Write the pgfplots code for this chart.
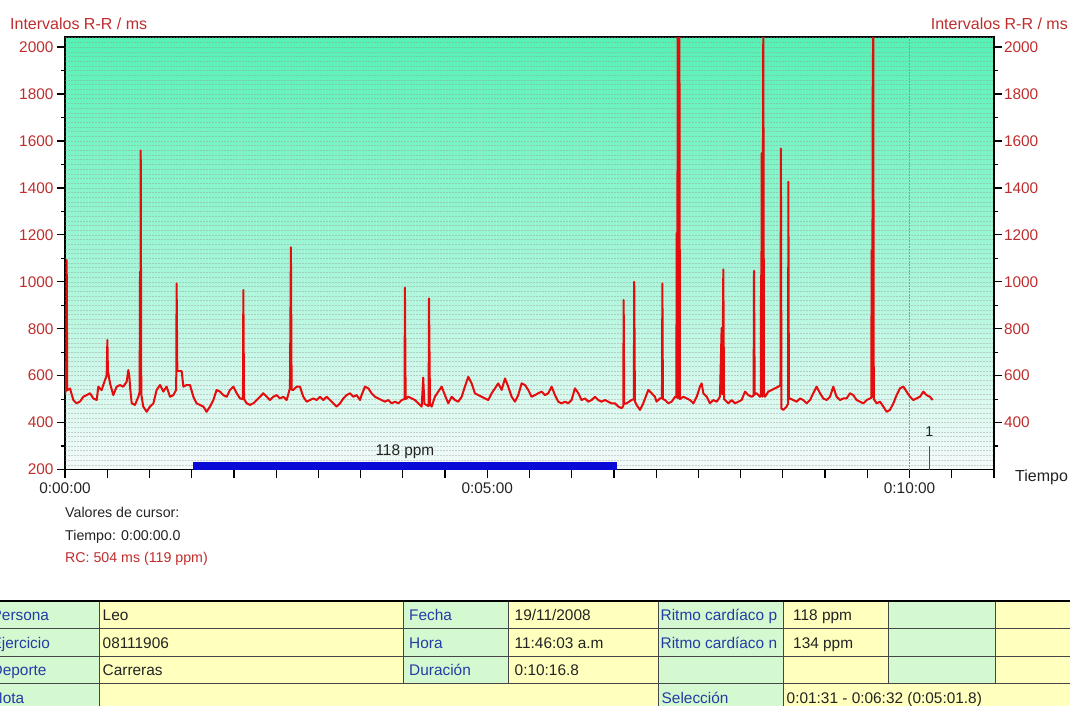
\documentclass[border=0pt]{standalone}
\usepackage{fontspec}
\setmainfont{Liberation Sans}
\usepackage{pgfplots}
\usepackage{pgfplotstable}
\pgfplotsset{compat=1.18}
\definecolor{rrred}{RGB}{190,45,45}
\definecolor{linered}{RGB}{228,12,12}
\definecolor{bgtop}{RGB}{85,242,180}
\definecolor{bgmid}{RGB}{160,246,214}
\definecolor{bgbot}{RGB}{244,250,250}
\definecolor{gridc}{RGB}{150,150,150}
\definecolor{selblue}{RGB}{10,10,215}
\definecolor{cellg}{RGB}{212,248,208}
\definecolor{celly}{RGB}{255,255,190}
\definecolor{lblue}{RGB}{35,60,165}
\definecolor{txt}{RGB}{35,35,35}
\definecolor{tline}{RGB}{70,70,70}
\newcommand{\fa}{\fontsize{15.4}{17}\selectfont}
\newcommand{\ft}{\fontsize{16}{18}\selectfont}
\newcommand{\fb}{\fontsize{14.2}{16}\selectfont}

\pgfplotstableread{
t v
0 525
0.8 540
1.2 1092
1.6 538
3.6 545
5.9 496
8.3 482
10.7 490
13.0 510
15.4 517
17.8 525
20.1 503
22.5 496
23.7 553
26.0 538
27.2 560
28.4 581
29.6 600
30.1 752
30.5 620
32.0 567
34.3 517
36.7 553
39.1 560
41.4 553
43.8 574
45.0 624
45.7 600
46.2 553
47.4 482
49.7 475
52.1 510
53.0 530
53.3 1043
53.5 560
53.8 1560
54.2 520
55.6 468
58.0 446
60.4 468
62.8 482
65.1 539
67.5 560
69.9 532
72.2 553
74.6 510
77.0 517
79.0 540
79.3 993
79.8 620
82.9 619
84.1 553
86.4 560
88.8 560
91.2 510
93.5 482
95.9 475
98.3 468
100.6 446
103.0 468
105.4 496
107.7 539
110.1 532
112.5 517
114.9 510
117.2 539
119.6 553
122.0 525
124.3 503
126.4 500
126.7 965
127.2 500
129.1 482
131.4 475
133.8 482
136.2 496
138.5 510
140.9 525
143.3 510
145.6 496
148.0 510
150.4 517
152.7 503
155.1 510
157.5 496
159.8 546
160.5 1147
161.0 540
162.2 539
164.6 553
166.9 553
169.3 510
171.7 489
174.0 496
176.4 503
178.8 496
181.2 510
183.5 496
185.9 510
188.3 496
190.6 482
193.0 468
195.4 482
197.7 503
200.1 517
202.5 525
204.8 510
207.2 517
209.6 496
210.7 517
213.1 553
215.5 546
217.8 525
220.2 510
222.6 503
224.9 496
227.3 489
229.7 496
232.0 482
234.4 489
236.8 482
239.2 496
241.2 500
241.5 975
242.0 500
243.9 510
246.3 503
248.6 496
251.0 482
253.4 468
254.5 592
255.3 480
256.9 475
258.3 470
258.6 929
259.3 480
260.5 468
262.8 510
265.2 532
267.6 553
269.9 517
272.3 482
274.7 510
277.0 496
279.4 489
281.8 510
284.1 553
286.5 595
288.9 567
291.2 525
293.6 517
296.0 510
298.4 503
300.7 496
303.1 525
305.5 546
307.8 567
310.2 539
312.6 588
314.9 553
317.3 510
319.7 489
322.0 517
324.4 567
326.8 560
329.1 539
331.5 510
333.9 517
336.2 525
338.6 532
341.0 517
343.3 525
345.7 553
348.1 517
350.4 489
352.8 482
355.2 489
357.5 482
359.9 496
362.3 546
364.7 525
367.0 496
369.4 503
371.8 489
374.1 496
376.5 510
378.9 496
381.2 489
383.6 496
386.0 489
388.3 482
390.7 482
393.1 468
395.4 461
396.6 470
396.9 922
397.3 480
399.0 482
402.5 496
404.1 500
404.4 1000
404.9 490
406.1 475
408.5 454
410.8 482
414.4 539
416.8 525
419.1 510
420.3 489
422.7 503
424.1 505
424.4 993
424.8 500
426.3 496
428.6 482
431.0 489
433.4 510
434.3 510
434.6 1208
434.9 505
435.3 2100
435.7 505
436.1 1909
436.5 2100
436.9 500
439.3 510
441.6 503
444.0 496
446.4 482
448.8 510
451.1 553
452.3 567
453.5 525
455.9 510
458.2 482
460.6 496
463.0 489
465.3 510
466.5 803
466.9 520
467.7 1053
468.2 500
468.9 496
471.2 482
473.6 496
476.0 482
478.4 489
480.7 496
483.1 532
485.5 517
487.8 510
489.2 515
489.5 1047
490.0 520
491.4 525
493.7 510
494.3 515
494.5 1029
494.7 515
494.9 1548
495.4 510
496.1 2100
496.6 520
497.3 510
499.7 532
502.0 539
504.4 546
506.8 553
508.3 560
508.6 1568
509.0 460
510.3 454
512.7 468
513.7 480
513.9 1426
514.3 500
515.1 503
517.4 496
519.8 489
522.2 503
524.5 496
526.9 482
529.3 496
531.6 525
534.0 553
536.4 525
538.7 503
541.1 496
543.5 510
545.8 553
548.2 510
550.6 496
552.9 503
555.3 503
557.7 525
560.0 517
562.4 496
564.8 489
567.2 482
569.5 496
571.9 503
572.8 505
573.1 1135
573.5 510
573.8 1789
574.2 2100
574.6 500
576.6 482
579.0 489
581.4 468
583.7 446
586.1 454
588.5 482
590.8 517
593.2 546
595.6 553
597.9 532
600.3 510
602.7 496
605.0 503
607.4 510
609.8 532
612.1 517
614.5 510
616.4 496
}\rrdata

\begin{document}
\begin{tikzpicture}
\useasboundingbox (0pt,0pt) rectangle (1070pt,-705pt);
% ---------- main axis ----------
\begin{axis}[
  at={(65pt,-469.5pt)}, anchor=south west,
  scale only axis, width=929pt, height=432.5pt,
  xmin=0, xmax=660, ymin=200, ymax=2043,
  axis background/.style={top color=bgtop, bottom color=bgbot, middle color=bgmid},
  axis line style={black, line width=1.4pt},
  tick pos=left, tick align=outside,
  major tick length=8pt, minor tick length=4pt,
  tick style={black, line width=1.2pt},
  ytick={200,400,...,2000}, minor y tick num=1,
  xtick={0,300,600}, xticklabels={0:00:00,0:05:00,0:10:00},
  extra x ticks={30,60,90,120,150,180,210,240,270,330,360,390,420,450,480,510,540,570,630,660},
  extra x tick labels={},
  yticklabel style={font=\fa, text=rrred},
  xticklabel style={font=\fa, text=txt, yshift=-1.5pt},
  /pgf/number format/1000 sep={},
  /pgf/number format/assume math mode=true,
  scaled y ticks=false,
]
\pgfplotsinvokeforeach{220,240,...,2040}{
  \draw[gridc, opacity=0.42, line width=0.5pt, dash pattern=on 1.5pt off 1.5pt] (axis cs:0,#1) -- (axis cs:660,#1);
}
\draw[gridc, line width=0.6pt, dash pattern=on 1.5pt off 1.5pt] (axis cs:600,200) -- (axis cs:600,2043);
\fill[selblue] (axis cs:91,200) rectangle (axis cs:392,233);
\node[font=\fa, text=txt] at (axis cs:241.5,275) {118 ppm};
\draw[linered, line width=0.6pt] (axis cs:614,200) -- (axis cs:614,300);
\node[font=\fb, text=txt] at (axis cs:614,360) {1};
\addplot[linered, line width=2pt, line join=round, mark=none] table[x=t, y=v] {\rrdata};
\end{axis}
% ---------- right axis ----------
\begin{axis}[
  at={(65pt,-469.5pt)}, anchor=south west,
  scale only axis, width=929pt, height=432.5pt,
  xmin=0, xmax=660, ymin=200, ymax=2043,
  axis x line=none, axis y line*=right,
  axis line style={black, line width=1.4pt},
  tick align=outside,
  major tick length=8pt, minor tick length=4pt,
  tick style={black, line width=1.2pt},
  ytick={400,600,...,2000}, minor ytick={300,500,...,1900},
  yticklabel style={font=\fa, text=rrred, xshift=-1.5pt},
  /pgf/number format/1000 sep={},
  /pgf/number format/assume math mode=true,
  scaled y ticks=false,
]
\end{axis}
% ---------- titles ----------
\node[anchor=base west, font=\ft, text=rrred, inner sep=0pt] at (10pt,-29.5pt) {Intervalos R-R / ms};
\node[anchor=base east, font=\ft, text=rrred, inner sep=0pt] at (1068pt,-29.5pt) {Intervalos R-R / ms};
\node[anchor=base west, font=\ft, text=txt, inner sep=0pt] at (1015pt,-481pt) {Tiempo};
\node[anchor=base west, font=\fb, text=txt, inner sep=0pt] at (65pt,-517.8pt) {Valores de cursor:};
\node[anchor=base west, font=\fb, text=txt, inner sep=0pt] at (65pt,-540.1pt) {Tiempo: 0:00:00.0};
\node[anchor=base west, font=\fb, text=rrred, inner sep=0pt] at (65pt,-562.8pt) {RC: 504 ms (119 ppm)};
% ---------- table ----------
\fill[cellg] (-12pt,-601pt) rectangle (99pt,-711pt);
\fill[celly] (99pt,-601pt) rectangle (403pt,-683.5pt);
\fill[cellg] (403pt,-601pt) rectangle (508pt,-683.5pt);
\fill[celly] (508pt,-601pt) rectangle (658pt,-683.5pt);
\fill[celly] (99pt,-683.5pt) rectangle (658pt,-711pt);
\fill[cellg] (658pt,-601pt) rectangle (783pt,-711pt);
\fill[celly] (783pt,-601pt) rectangle (888pt,-683.5pt);
\fill[cellg] (888pt,-601pt) rectangle (995pt,-683.5pt);
\fill[celly] (995pt,-601pt) rectangle (1075pt,-683.5pt);
\fill[celly] (783pt,-683.5pt) rectangle (1075pt,-711pt);
\foreach \r in {628.5,656,683.5} {\draw[tline, line width=0.9pt] (-12pt,-\r pt) -- (1075pt,-\r pt);}
\foreach \c in {99,658,783} {\draw[tline, line width=0.9pt] (\c pt,-601pt) -- (\c pt,-711pt);}
\foreach \c in {403,508,888,995} {\draw[tline, line width=0.9pt] (\c pt,-601pt) -- (\c pt,-683.5pt);}
\draw[black, line width=2pt] (-12pt,-601pt) -- (1075pt,-601pt);
\foreach \y/\s in {620.5/Persona,648/Ejercicio,675.5/Deporte,703/Nota}
  {\node[anchor=base west, font=\fa, text=lblue, inner sep=0pt] at (-8.5pt,-\y pt) {\s};}
\node[anchor=base west, font=\fa, text=txt, inner sep=0pt] at (102.5pt,-620.5pt) {Leo};
\node[anchor=base west, font=\fa, text=txt, inner sep=0pt] at (102.5pt,-648pt) {08111906};
\node[anchor=base west, font=\fa, text=txt, inner sep=0pt] at (102.5pt,-675.5pt) {Carreras};
\node[anchor=base west, font=\fa, text=lblue, inner sep=0pt] at (409pt,-620.5pt) {Fecha};
\node[anchor=base west, font=\fa, text=lblue, inner sep=0pt] at (409pt,-648pt) {Hora};
\node[anchor=base west, font=\fa, text=lblue, inner sep=0pt] at (409pt,-675.5pt) {Duración};
\node[anchor=base west, font=\fa, text=txt, inner sep=0pt] at (514.5pt,-620.5pt) {19/11/2008};
\node[anchor=base west, font=\fa, text=txt, inner sep=0pt] at (514.5pt,-648pt) {11:46:03 a.m};
\node[anchor=base west, font=\fa, text=txt, inner sep=0pt] at (514.5pt,-675.5pt) {0:10:16.8};
\begin{scope}
\clip (658pt,-601pt) rectangle (781pt,-683.5pt);
\node[anchor=base west, font=\fa, text=lblue, inner sep=0pt] at (660.5pt,-620.5pt) {Ritmo cardíaco p};
\node[anchor=base west, font=\fa, text=lblue, inner sep=0pt] at (660.5pt,-648pt) {Ritmo cardíaco n};
\end{scope}
\node[anchor=base west, font=\fa, text=lblue, inner sep=0pt] at (661.5pt,-703pt) {Selección};
\node[anchor=base west, font=\fa, text=txt, inner sep=0pt] at (793pt,-620.5pt) {118 ppm};
\node[anchor=base west, font=\fa, text=txt, inner sep=0pt] at (793pt,-648pt) {134 ppm};
\node[anchor=base west, font=\fa, text=txt, inner sep=0pt] at (786.5pt,-703pt) {0:01:31 - 0:06:32 (0:05:01.8)};
\end{tikzpicture}
\end{document}
